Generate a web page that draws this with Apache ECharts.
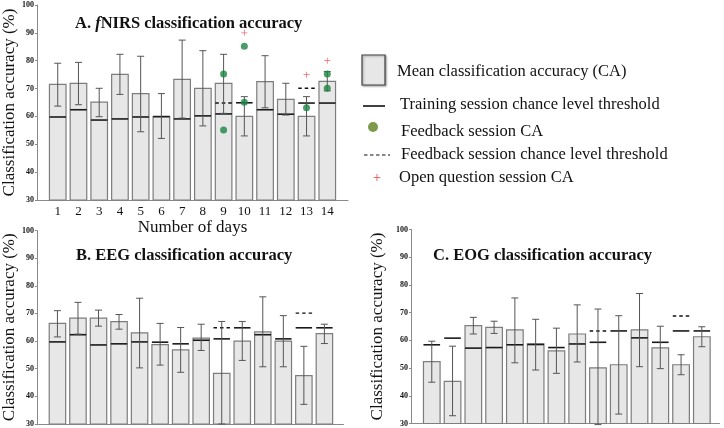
<!DOCTYPE html>
<html>
<head>
<meta charset="utf-8">
<script src="https://cdn.jsdelivr.net/npm/echarts@6/dist/echarts.min.js"></script>
<style>html,body{margin:0;padding:0;background:#fff}#c{width:724px;height:428px}</style>
</head>
<body>
<div id="c"></div>
<script>
// ---------- data ----------
const days = [1,2,3,4,5,6,7,8,9,10,11,12,13,14];
const xTickLabels = ['1','2','3','4','5','6','7','8','9','10','11','12','13','14'];
const yTicks = [30,40,50,60,70,80,90,100];

// A. fNIRS
const meanA    = [71.5,71.9,65.1,75.1,68.2,60.0,73.3,70.1,71.9,60.0,72.5,66.1,60.0,72.6];
const errHiA   = [79.1,79.4,70.1,82.3,81.6,68.2,87.4,83.6,82.3,67.1,81.8,71.9,67.1,76.1];
const errLoA   = [63.7,64.2,59.9,67.9,54.5,52.1,59.4,56.6,61.1,53.0,63.1,60.5,53.0,69.2];
const trainThrA= [59.8,62.4,58.7,59.1,59.8,59.9,59.1,60.2,60.9,64.9,62.4,60.8,64.8,64.8];
const fbThrDaysA = [9,13];
const fbThrA     = [64.8,70.1];
const fbCADaysA  = [9,9,10,10,13,14,14];
const fbCAA      = [75.2,55.1,85.2,65.1,63.1,75.2,70.1];
const openDaysA  = [10,13,14];
const openCAA    = [90.0,75.0,80.0];

// B. EEG
const meanB    = [66.4,68.3,68.3,67.0,63.0,58.7,56.8,61.1,48.3,60.0,63.3,60.0,47.5,62.7];
const errHiB   = [71.0,74.0,71.2,69.6,75.5,66.4,64.9,66.1,67.1,67.1,76.0,69.2,58.1,66.1];
const errLoB   = [61.5,62.5,65.4,64.3,50.3,51.3,48.7,56.6,30.0,53.0,50.7,50.7,37.1,59.1];
const trainThrB= [59.7,62.3,58.6,59.0,59.7,59.6,59.0,60.3,60.8,64.8,62.3,60.8,64.8,64.8];
const fbThrDaysB = [9,13];
const fbThrB     = [64.8,70.1];

// C. EOG
const meanC    = [52.3,45.2,65.3,64.7,63.8,58.7,56.2,62.3,50.1,51.2,63.8,57.3,51.2,61.3];
const errHiC   = [59.7,57.9,68.3,66.9,75.3,67.6,64.4,72.8,71.3,68.9,76.9,65.1,54.8,64.9];
const errLoC   = [44.9,32.8,62.3,62.5,51.9,49.3,48.1,52.2,29.6,33.4,50.5,49.8,47.6,57.7];
const trainThrC= [58.4,60.8,57.2,57.4,58.4,58.5,57.4,58.7,59.3,63.4,60.9,59.3,63.4,63.4];
const fbThrDaysC = [9,13];
const fbThrC     = [63.4,68.8];

// ---------- helpers ----------
const SERIF = "'Liberation Serif','DejaVu Serif',serif";
const zip = (xs, ys) => xs.map((x,i)=>[x, ys[i]]);
const zip3 = (xs, a, b) => xs.map((x,i)=>[x, a[i], b[i]]);

function barItem(params, api){
  const x = api.value(0), v = api.value(1);
  const top = api.coord([x, v]);
  const base = api.coord([x, 30]);
  const w = api.size([0.8, 0])[0];
  return {type:'rect', shape:{x: top[0]-w/2, y: top[1], width: w, height: base[1]-top[1]},
    style:{fill:'#e6e7e6', stroke:'#7d7d7d', lineWidth:1.2}};
}
function errItem(params, api){
  const x = api.value(0);
  const hi = api.coord([x, api.value(1)]);
  const lo = api.coord([x, api.value(2)]);
  const c = 3.5;
  const st = {stroke:'#555', lineWidth:1};
  return {type:'group', children:[
    {type:'line', shape:{x1:hi[0], y1:hi[1], x2:lo[0], y2:lo[1]}, style:st},
    {type:'line', shape:{x1:hi[0]-c, y1:hi[1], x2:hi[0]+c, y2:hi[1]}, style:st},
    {type:'line', shape:{x1:lo[0]-c, y1:lo[1], x2:lo[0]+c, y2:lo[1]}, style:st}
  ]};
}
function thrItem(dashed){
  return function(params, api){
    const x = api.value(0);
    const p = api.coord([x, api.value(1)]);
    const w = api.size([0.8, 0])[0];
    return {type:'line', shape:{x1:p[0]-w/2, y1:p[1], x2:p[0]+w/2, y2:p[1]},
      style: dashed ? {stroke:'#111', lineWidth:1.4, lineDash:[3.5,3]} : {stroke:'#1a1a1a', lineWidth:1.6}};
  };
}

function panelSeries(idx, mean, hi, lo, thr, fbDays, fbThr){
  return [
    {type:'custom', xAxisIndex:idx, yAxisIndex:idx, renderItem:barItem, data: zip(days, mean), clip:false, z:1},
    {type:'custom', xAxisIndex:idx, yAxisIndex:idx, renderItem:thrItem(false), data: zip(days, thr), clip:false, z:2},
    {type:'custom', xAxisIndex:idx, yAxisIndex:idx, renderItem:thrItem(true), data: zip(fbDays, fbThr), clip:false, z:2},
    {type:'custom', xAxisIndex:idx, yAxisIndex:idx, renderItem:errItem, data: zip3(days, hi, lo), clip:false, z:3}
  ];
}

function yAxis(idx, gap){
  return {type:'value', gridIndex:idx, min:30, max:100, interval:10,
    name:'Classification accuracy (%)', nameLocation:'middle', nameGap:gap,
    nameTextStyle:{fontFamily:SERIF, fontSize:17, color:'#111'},
    axisLine:{show:true, lineStyle:{color:'#8a8a8a', width:1}},
    axisTick:{show:true, length:2, lineStyle:{color:'#8a8a8a'}},
    axisLabel:{fontFamily:SERIF, fontWeight:'bold', fontSize:8, color:'#111', margin:3},
    splitLine:{show:false}};
}
function xAxis(idx, max, labels){
  const ax = {type:'value', gridIndex:idx, min:0, max:max, interval:1,
    axisLine:{show:true, lineStyle:{color:'#8a8a8a', width:1}},
    axisTick:{show:false}, splitLine:{show:false},
    axisLabel:{show:false}};
  if (labels){
    ax.axisLabel = {show:true, fontFamily:SERIF, fontSize:13, color:'#111', margin:5,
      showMinLabel:false, showMaxLabel:false,
      formatter: v => (v>=1 && v<=14) ? xTickLabels[v-1] : ''};
    ax.name = 'Number of days';
    ax.nameLocation = 'middle';
    ax.nameGap = 16;
    ax.nameTextStyle = {fontFamily:SERIF, fontSize:17, color:'#111'};
  }
  return ax;
}

const titleRich = {
  b:{fontFamily:SERIF, fontWeight:'bold', fontSize:16.5, color:'#111'},
  i:{fontFamily:SERIF, fontWeight:'bold', fontStyle:'italic', fontSize:16.5, color:'#111'}
};

const legendFont = {fontFamily:SERIF, fontSize:16.5, fill:'#111'};
const plusPath = 'path://M4.4 0 H5.6 V4.4 H10 V5.6 H5.6 V10 H4.4 V5.6 H0 V4.4 H4.4 Z';

const chart = echarts.init(document.getElementById('c'), null, {renderer:'canvas'});
chart.setOption({
  animation:false,
  backgroundColor:'#fff',
  title:[
    {text:'{b|A. }{i|f}{b|NIRS classification accuracy}', left:70, top:10, textStyle:{rich:titleRich}},
    {text:'{b|B. EEG classification accuracy}', left:71, top:242, textStyle:{rich:titleRich}},
    {text:'{b|C. EOG classification accuracy}', left:428, top:242, textStyle:{rich:titleRich}}
  ],
  grid:[
    {left:37, top:5, width:311, height:195},
    {left:33.5, top:230.5, width:310, height:194.5},
    {left:411, top:229.5, width:308.5, height:194}
  ],
  xAxis:[xAxis(0, 15, true), xAxis(1, 14.93, false), xAxis(2, 14.85, false)],
  yAxis:[yAxis(0, 19), yAxis(1, 17), yAxis(2, 25)],
  series:[
    ...panelSeries(0, meanA, errHiA, errLoA, trainThrA, fbThrDaysA, fbThrA),
    {type:'scatter', xAxisIndex:0, yAxisIndex:0, data: zip(fbCADaysA, fbCAA), symbol:'circle', symbolSize:7,
      itemStyle:{color:'#1b8443'}, z:5, clip:false},
    {type:'scatter', xAxisIndex:0, yAxisIndex:0, data: zip(openDaysA, openCAA), symbol:plusPath, symbolSize:6,
      itemStyle:{color:'#e8404a'}, z:5, clip:false},
    ...panelSeries(1, meanB, errHiB, errLoB, trainThrB, fbThrDaysB, fbThrB),
    ...panelSeries(2, meanC, errHiC, errLoC, trainThrC, fbThrDaysC, fbThrC)
  ],
  graphic:[
    {type:'rect', shape:{x:362, y:55, width:23, height:30}, style:{fill:'#e6e7e6', stroke:'#444', lineWidth:1.2,
      shadowBlur:2, shadowOffsetX:1, shadowOffsetY:1, shadowColor:'rgba(0,0,0,0.35)'}},
    {type:'text', x:397, y:72, style:Object.assign({text:'Mean classification accuracy (CA)', textVerticalAlign:'middle'}, legendFont)},
    {type:'line', shape:{x1:363, y1:106, x2:385, y2:106}, style:{stroke:'#111', lineWidth:1.6}},
    {type:'text', x:400, y:105, style:Object.assign({text:'Training session chance level threshold', textVerticalAlign:'middle'}, legendFont)},
    {type:'circle', shape:{cx:373, cy:127, r:5}, style:{fill:'#7c9a4a'}},
    {type:'text', x:401, y:132, style:Object.assign({text:'Feedback session CA', textVerticalAlign:'middle'}, legendFont)},
    {type:'line', shape:{x1:364, y1:155, x2:390, y2:155}, style:{stroke:'#111', lineWidth:1.2, lineDash:[3.5,2.5]}},
    {type:'text', x:401, y:155, style:Object.assign({text:'Feedback session chance level threshold', textVerticalAlign:'middle'}, legendFont)},
    {type:'text', x:377, y:178, style:{text:'+', fontFamily:SERIF, fontSize:14, fill:'#e8404a', textAlign:'center', textVerticalAlign:'middle'}},
    {type:'text', x:399, y:178, style:Object.assign({text:'Open question session CA', textVerticalAlign:'middle'}, legendFont)}
  ]
});
</script>
</body>
</html>
